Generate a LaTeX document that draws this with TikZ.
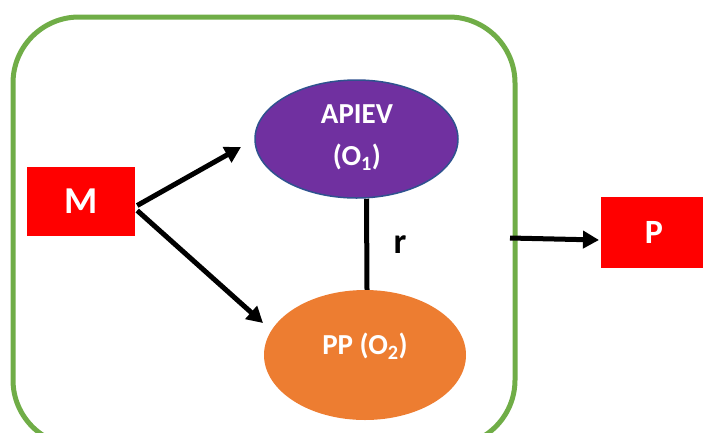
\documentclass[tikz,border=0pt]{standalone}
\usepackage{fontspec}
\setmainfont{Carlito}
\usetikzlibrary{arrows.meta,shapes.geometric}
\definecolor{frameg}{HTML}{70AD47}
\definecolor{boxred}{HTML}{FF0000}
\definecolor{purp}{HTML}{7030A0}
\definecolor{purpb}{HTML}{2F528F}
\definecolor{orng}{HTML}{ED7D31}
\tikzset{
  redbox/.style={fill=boxred, draw=none, text=white, font=\bfseries\fontsize{38}{40}\selectfont, inner sep=0pt},
  ell/.style={ellipse, inner sep=0pt, text=white, font=\bfseries\fontsize{29}{32}\selectfont, align=center},
  lbl/.style={font=\bfseries\fontsize{29}{32}\selectfont, text=white},
  arr/.style={line width=5pt, -{Triangle[length=16pt,width=17pt]}},
  conn/.style={line width=5pt}
}
\begin{document}
\begin{tikzpicture}[x=1pt,y=-1pt]
\useasboundingbox (0,0) rectangle (703,432);
\begin{scope}
\clip (0,0) rectangle (703,432);
\draw[frameg, line width=5pt, rounded corners=66pt] (13,17) rectangle (515,446);
\end{scope}
\node[redbox, minimum width=108pt, minimum height=69pt] (M) at (81,201.5) {M};
\node[redbox, minimum width=106pt, minimum height=71pt, font=\bfseries\fontsize{34}{38}\selectfont] (P) at (654,232.5) {P};
\node[ell, fill=purp, draw=purpb, line width=1.5pt, minimum width=203pt, minimum height=118pt] (O1) at (356.5,139) {};
\node[lbl] (t1) at (357,114) {APIEV};
\node[lbl] (t2) at (357,157) {(O\textsubscript{1})};
\node[ell, fill=orng, minimum width=202pt, minimum height=130pt] (O2) at (365,355) {};
\node[lbl] (t3) at (365,346) {PP (O\textsubscript{2})};
\node[font=\bfseries\fontsize{36}{40}\selectfont] (r) at (400,245) {r};
\coordinate (a1) at (241,147);
\coordinate (a2) at (263,323);
\coordinate (f) at (510,238);
\coordinate (a3) at (599,240);
\draw[arr] ([yshift=-4pt]M.east) ++(2,0) -- (a1);
\draw[arr] ([yshift=-9pt]M.east) ++(2,0) -- (a2);
\draw[arr] (f) -- (a3);
\draw[conn] ([xshift=10pt]O1.south) -- ([xshift=2pt]O2.north);
\end{tikzpicture}
\end{document}
